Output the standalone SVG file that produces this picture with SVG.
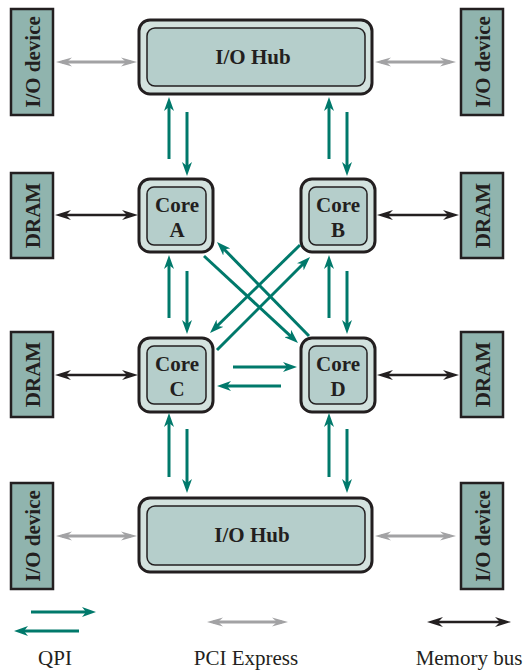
<svg xmlns="http://www.w3.org/2000/svg" width="528" height="670" viewBox="0 0 528 670">
<style>
.dev{fill:#90b4ae;stroke:#231f20;stroke-width:2.5}
.outer{fill:#d3e2de;stroke:#231f20;stroke-width:3}
.inner{fill:#b5cecb;stroke:#231f20;stroke-width:1.5}
.lbl{font-family:"Liberation Serif","Times New Roman",serif;font-weight:bold;font-size:21px;fill:#231f20;text-anchor:middle}
.leg{font-family:"Liberation Serif","Times New Roman",serif;font-size:21px;fill:#231f20;text-anchor:middle}
.qpi{stroke:#00796b;stroke-width:3;fill:none;marker-end:url(#mq)}
.pci{stroke:#a2a2a4;stroke-width:3;fill:none;marker-start:url(#mg);marker-end:url(#mg)}
.mem{stroke:#231f20;stroke-width:2.4;fill:none;marker-start:url(#mb);marker-end:url(#mb)}
</style>
<defs>
<marker id="mq" viewBox="0 0 14 10" refX="8" refY="5" markerWidth="14" markerHeight="10" markerUnits="userSpaceOnUse" orient="auto">
<path d="M0,0 L14,5 L0,10 L4,5 z" fill="#00796b"/>
</marker>
<marker id="mg" viewBox="0 0 16 10" refX="10" refY="5" markerWidth="16" markerHeight="10" markerUnits="userSpaceOnUse" orient="auto-start-reverse">
<path d="M0,0.5 L16,5 L0,9.5 L5,5 z" fill="#a2a2a4"/>
</marker>
<marker id="mb" viewBox="0 0 16 10" refX="10" refY="5" markerWidth="16" markerHeight="10" markerUnits="userSpaceOnUse" orient="auto-start-reverse">
<path d="M0,0 L16,5 L0,10 L5,5 z" fill="#231f20"/>
</marker>
</defs>

<g id="io-dev-tl"><rect class="dev" x="11" y="9" width="42" height="106"/><text class="lbl" transform="translate(39.5,62) rotate(-90)">I/O device</text></g>
<g id="io-dev-tr"><rect class="dev" x="461" y="9" width="42" height="106"/><text class="lbl" transform="translate(489.5,62) rotate(-90)">I/O device</text></g>
<g id="io-dev-bl"><rect class="dev" x="11" y="483" width="42" height="106"/><text class="lbl" transform="translate(39.5,536) rotate(-90)">I/O device</text></g>
<g id="io-dev-br"><rect class="dev" x="461" y="483" width="42" height="106"/><text class="lbl" transform="translate(489.5,536) rotate(-90)">I/O device</text></g>

<g id="dram-a"><rect class="dev" x="11" y="173" width="42" height="85"/><text class="lbl" transform="translate(39.5,215.5) rotate(-90)">DRAM</text></g>
<g id="dram-b"><rect class="dev" x="461" y="173" width="42" height="85"/><text class="lbl" transform="translate(489.5,215.5) rotate(-90)">DRAM</text></g>
<g id="dram-c"><rect class="dev" x="11" y="332" width="42" height="85"/><text class="lbl" transform="translate(39.5,374.5) rotate(-90)">DRAM</text></g>
<g id="dram-d"><rect class="dev" x="461" y="332" width="42" height="85"/><text class="lbl" transform="translate(489.5,374.5) rotate(-90)">DRAM</text></g>

<g id="hub-top"><rect class="outer" x="139" y="20" width="233" height="74" rx="11"/><rect class="inner" x="147" y="28" width="218" height="58" rx="8"/><text class="lbl" x="253" y="64">I/O Hub</text></g>
<g id="hub-bottom"><rect class="outer" x="139" y="498" width="233" height="74" rx="11"/><rect class="inner" x="147" y="506" width="218" height="59" rx="8"/><text class="lbl" x="252" y="542">I/O Hub</text></g>

<g id="core-a"><rect class="outer" x="139" y="179" width="74" height="73" rx="11"/><rect class="inner" x="147" y="187" width="59" height="58" rx="7"/><text class="lbl" x="177" y="212">Core</text><text class="lbl" x="177" y="237">A</text></g>
<g id="core-b"><rect class="outer" x="301" y="179" width="74" height="73" rx="11"/><rect class="inner" x="309" y="187" width="58" height="58" rx="7"/><text class="lbl" x="338" y="212">Core</text><text class="lbl" x="338" y="237">B</text></g>
<g id="core-c"><rect class="outer" x="139" y="338" width="74" height="74" rx="11"/><rect class="inner" x="147" y="346" width="59" height="58" rx="7"/><text class="lbl" x="177" y="371">Core</text><text class="lbl" x="177" y="396">C</text></g>
<g id="core-d"><rect class="outer" x="301" y="338" width="74" height="74" rx="11"/><rect class="inner" x="309" y="346" width="58" height="58" rx="7"/><text class="lbl" x="338" y="371">Core</text><text class="lbl" x="338" y="396">D</text></g>

<g id="connectors">
<line class="qpi" x1="169" y1="159" x2="169" y2="103"/>
<line class="qpi" x1="187" y1="112" x2="187" y2="170"/>
<line class="qpi" x1="329" y1="159" x2="329" y2="103"/>
<line class="qpi" x1="347" y1="112" x2="347" y2="170"/>
<line class="qpi" x1="169" y1="318" x2="169" y2="261"/>
<line class="qpi" x1="187" y1="271" x2="187" y2="328"/>
<line class="qpi" x1="329" y1="318" x2="329" y2="261"/>
<line class="qpi" x1="347" y1="271" x2="347" y2="328"/>
<line class="qpi" x1="169" y1="477" x2="169" y2="419"/>
<line class="qpi" x1="187" y1="429" x2="187" y2="487"/>
<line class="qpi" x1="329" y1="477" x2="329" y2="419"/>
<line class="qpi" x1="347" y1="429" x2="347" y2="487"/>
<line class="qpi" x1="233" y1="367" x2="291" y2="367"/>
<line class="qpi" x1="281" y1="386" x2="223" y2="386"/>
<line class="qpi" x1="204" y1="256" x2="293.6" y2="338.9"/>
<line class="qpi" x1="309" y1="336" x2="221.2" y2="246.3"/>
<line class="qpi" x1="300" y1="245" x2="214.3" y2="328.8"/>
<line class="qpi" x1="217" y1="350" x2="305.8" y2="261.2"/>

<line class="pci" x1="62" y1="62" x2="131" y2="62"/>
<line class="pci" x1="381" y1="62" x2="450" y2="62"/>
<line class="pci" x1="62" y1="536" x2="131" y2="536"/>
<line class="pci" x1="381" y1="536" x2="450" y2="536"/>

<line class="mem" x1="61" y1="215" x2="132" y2="215"/>
<line class="mem" x1="383" y1="215" x2="453" y2="215"/>
<line class="mem" x1="61" y1="375" x2="132" y2="375"/>
<line class="mem" x1="383" y1="375" x2="453" y2="375"/>
</g>

<g id="legend">
<line class="qpi" x1="31" y1="612" x2="90" y2="612"/>
<line class="qpi" x1="79" y1="631" x2="20" y2="631"/>
<line class="pci" x1="213" y1="622" x2="282" y2="622"/>
<line class="mem" x1="433" y1="622" x2="505" y2="622"/>
<text class="leg" x="55" y="665">QPI</text>
<text class="leg" x="246" y="665">PCI Express</text>
<text class="leg" x="469" y="665">Memory bus</text>
</g>
</svg>
